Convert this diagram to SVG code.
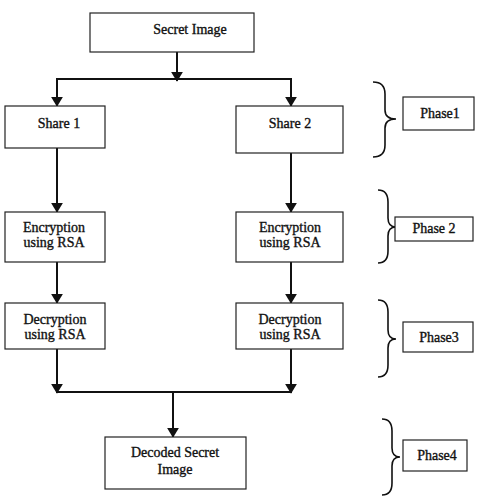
<svg xmlns="http://www.w3.org/2000/svg" width="481" height="503" viewBox="0 0 481 503">
<style>
.box{fill:#fff;stroke:#222;stroke-width:1.2}
.t{font-family:"Liberation Serif","Times New Roman",serif;font-size:14px;fill:#111;stroke:#111;stroke-width:0.35;text-anchor:middle}
.ln{stroke:#111;stroke-width:2;fill:none}
.br{stroke:#111;stroke-width:1.6;fill:none}
</style>
<defs>
<marker id="ah" markerWidth="5" markerHeight="6" refX="4.6" refY="3" orient="auto" markerUnits="strokeWidth">
<path d="M0,0 L5,3 L0,6 Z" fill="#111"/>
</marker>
</defs>
<g id="connectors">
<line class="ln" x1="177" y1="52" x2="177" y2="81" marker-end="url(#ah)"/>
<line class="ln" x1="56" y1="79" x2="292" y2="79"/>
<line class="ln" x1="57" y1="79" x2="57" y2="106" marker-end="url(#ah)"/>
<line class="ln" x1="291" y1="79" x2="291" y2="106" marker-end="url(#ah)"/>
<line class="ln" x1="57" y1="148" x2="57" y2="212" marker-end="url(#ah)"/>
<line class="ln" x1="291" y1="153" x2="291" y2="212" marker-end="url(#ah)"/>
<line class="ln" x1="57" y1="262" x2="57" y2="303" marker-end="url(#ah)"/>
<line class="ln" x1="291" y1="262" x2="291" y2="303" marker-end="url(#ah)"/>
<line class="ln" x1="57" y1="349" x2="57" y2="393" marker-end="url(#ah)"/>
<line class="ln" x1="291" y1="349" x2="291" y2="393" marker-end="url(#ah)"/>
<line class="ln" x1="56" y1="392" x2="292" y2="392"/>
<line class="ln" x1="173" y1="392" x2="173" y2="437" marker-end="url(#ah)"/>
</g>
<g id="secret">
<rect class="box" x="90" y="13" width="164" height="39"/>
<text class="t" x="190" y="34">Secret Image</text>
</g>
<g id="share1">
<rect class="box" x="5" y="106" width="100" height="42"/>
<text class="t" x="59" y="128">Share 1</text>
</g>
<g id="share2">
<rect class="box" x="236" y="106" width="107" height="47"/>
<text class="t" x="290" y="128">Share 2</text>
</g>
<g id="enc1">
<rect class="box" x="5" y="212" width="100" height="50"/>
<text class="t" x="54" y="232">Encryption</text>
<text class="t" x="54" y="247">using RSA</text>
</g>
<g id="enc2">
<rect class="box" x="236" y="212" width="107" height="50"/>
<text class="t" x="290" y="232">Encryption</text>
<text class="t" x="290" y="247">using RSA</text>
</g>
<g id="dec1">
<rect class="box" x="5" y="303" width="100" height="46"/>
<text class="t" x="55" y="324">Decryption</text>
<text class="t" x="55" y="339">using RSA</text>
</g>
<g id="dec2">
<rect class="box" x="236" y="303" width="107" height="46"/>
<text class="t" x="290" y="324">Decryption</text>
<text class="t" x="290" y="339">using RSA</text>
</g>
<g id="decoded">
<rect class="box" x="105" y="437" width="141" height="52"/>
<text class="t" x="175" y="457">Decoded Secret</text>
<text class="t" x="175" y="474">Image</text>
</g>
<g id="brace1">
<path class="br" d="M373,82 Q385,82 385,94 L385,110 Q385,119 396,119 Q385,119 385,128 L385,145 Q385,157 373,157"/>
</g>
<g id="phase1">
<rect class="box" x="403" y="97" width="71" height="33"/>
<text class="t" x="440" y="118">Phase1</text>
</g>
<g id="brace2">
<path class="br" d="M378,190 Q388,190 388,202 L388,218 Q388,227 396,227 Q388,227 388,236 L388,251 Q388,263 378,263"/>
</g>
<g id="phase2">
<rect class="box" x="395" y="217" width="78" height="24"/>
<text class="t" x="434" y="233">Phase 2</text>
</g>
<g id="brace3">
<path class="br" d="M378,300 Q388,300 388,312 L388,330 Q388,339 396,339 Q388,339 388,348 L388,365 Q388,377 378,377"/>
</g>
<g id="phase3">
<rect class="box" x="403" y="322" width="70" height="30"/>
<text class="t" x="439" y="342">Phase3</text>
</g>
<g id="brace4">
<path class="br" d="M382,419 Q392,419 392,431 L392,448 Q392,457 400,457 Q392,457 392,466 L392,483 Q392,495 382,495"/>
</g>
<g id="phase4">
<rect class="box" x="403" y="440" width="64" height="31"/>
<text class="t" x="437" y="460">Phase4</text>
</g>
</svg>
